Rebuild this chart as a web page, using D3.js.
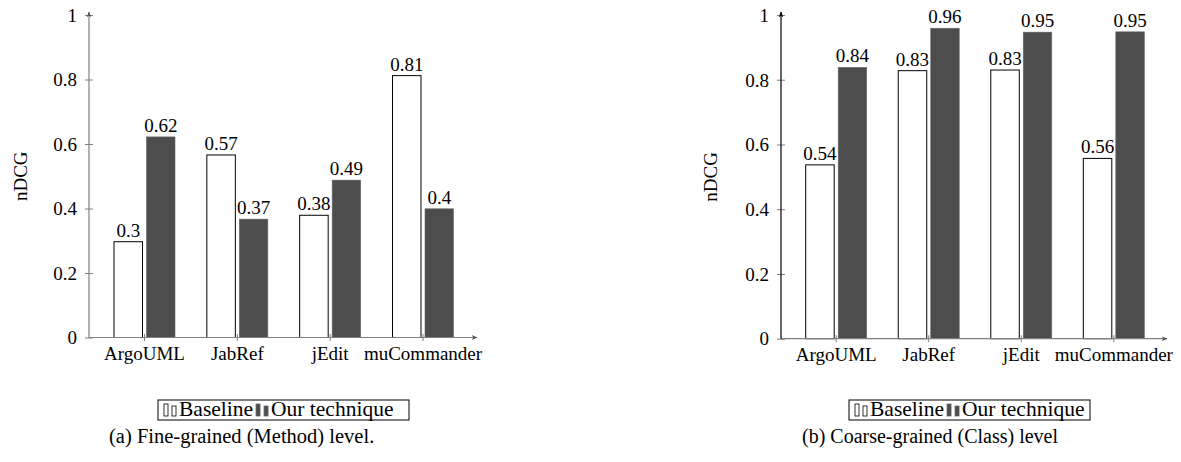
<!DOCTYPE html>
<html><head><meta charset="utf-8">
<script src="https://cdn.jsdelivr.net/npm/d3@7"></script>
<style>
body{margin:0;background:#fff}
text{font-family:"Liberation Serif","Times New Roman",serif;fill:#000}
</style>
</head><body><svg id="c" width="1181" height="462"></svg>
<script>
const categories = ["ArgoUML","JabRef","jEdit","muCommander"];
const yTicks = [0,0.2,0.4,0.6,0.8,1];
const fineBaseline = [0.297,0.566,0.379,0.812];
const fineOurs = [0.622,0.367,0.488,0.399];
const coarseBaseline = [0.537,0.828,0.830,0.557];
const coarseOurs = [0.838,0.959,0.947,0.948];
const seriesNames = ["Baseline","Our technique"];
const yLabel = "nDCG";
const captions = ["(a) Fine-grained (Method) level.","(b) Coarse-grained (Class) level"];

const svg = d3.select("#c");
const DARK = "#4d4d4d";
const fmt = v => d3.format(".2~f")(v);

const defs = svg.append("defs");
function marker(id,color){
  defs.append("marker").attr("id",id).attr("viewBox","0 0 10 10").attr("refX",9).attr("refY",5)
    .attr("markerWidth",5).attr("markerHeight",5).attr("orient","auto-start-reverse")
    .append("path").attr("d","M0,1 L10,5 L0,9 L3,5 Z").attr("fill",color);
}
marker("arrG","#555");
marker("arrK","#000");

const panels = [
  {base:fineBaseline, ours:fineOurs, ax:89, axEnd:477, yBot:337.5, yTop:15, t0:144, t1:422.5, yCol:"#808080", yMarker:"arrG", lblX:27, legX:158, legW:251, capX:109, capSize:20.5},
  {base:coarseBaseline, ours:coarseOurs, ax:781, axEnd:1167, yBot:338.7, yTop:15, t0:835.7, t1:1113.3, yCol:"#000", yMarker:"arrK", lblX:717, legX:849, legW:241, capX:802, capSize:20}
];

panels.forEach((p,pi)=>{
  const g = svg.append("g");
  const y = d3.scaleLinear().domain([0,1]).range([p.yBot,p.yTop]);
  const x = d3.scalePoint().domain(categories).range([p.t0,p.t1]);
  const bw = 28.5;

  const rows = categories.map((c,i)=>({c, b:p.base[i], o:p.ours[i]}));
  g.selectAll(".bb").data(rows).join("rect")
    .attr("x",d=>x(d.c)-30).attr("width",bw)
    .attr("y",d=>y(d.b)).attr("height",d=>y(0)-y(d.b))
    .attr("fill","#fff").attr("stroke","#000").attr("stroke-width",1);
  g.selectAll(".bo").data(rows).join("rect")
    .attr("x",d=>x(d.c)+2.5).attr("width",bw)
    .attr("y",d=>y(d.o)).attr("height",d=>y(0)-y(d.o))
    .attr("fill",DARK).attr("stroke","#666").attr("stroke-width",0.6);

  g.selectAll(".lb").data(rows).join("text")
    .attr("x",d=>x(d.c)-30+bw/2).attr("y",d=>y(d.b)-5)
    .attr("text-anchor","middle").attr("font-size",19).text(d=>fmt(d.b));
  g.selectAll(".lo").data(rows).join("text")
    .attr("x",d=>x(d.c)+2.5+bw/2).attr("y",d=>y(d.o)-5)
    .attr("text-anchor","middle").attr("font-size",19).text(d=>fmt(d.o));

  const yAx = d3.axisLeft(y).tickValues(yTicks).tickFormat(d=>d3.format("~g")(d)).tickSize(4).tickPadding(8);
  const ya = g.append("g").attr("transform",`translate(${p.ax},0)`).call(yAx);
  ya.select(".domain").remove();
  ya.selectAll(".tick line").attr("x1",-4).attr("x2",4).attr("stroke","#808080");
  ya.selectAll(".tick text").attr("font-size",19).attr("font-family","Liberation Serif").attr("fill","#000").attr("dy","0.33em");

  const xAx = d3.axisBottom(x).tickSize(0).tickPadding(9);
  const xa = g.append("g").attr("transform",`translate(0,${p.yBot})`).call(xAx);
  xa.select(".domain").remove();
  xa.selectAll(".tick line").attr("y1",-3.5).attr("y2",3.5).attr("stroke","#808080");
  xa.selectAll(".tick text").attr("font-size",19).attr("font-family","Liberation Serif").attr("fill","#000").attr("dy","0.71em");

  g.append("line").attr("x1",p.ax).attr("x2",p.axEnd).attr("y1",p.yBot).attr("y2",p.yBot)
    .attr("stroke","#808080").attr("stroke-width",1.2).attr("marker-end","url(#arrG)");
  g.append("line").attr("x1",p.ax).attr("x2",p.ax).attr("y1",p.yBot).attr("y2",p.yTop-3)
    .attr("stroke",p.yCol).attr("stroke-width",1.2).attr("marker-end",`url(#${p.yMarker})`);

  g.append("text").attr("transform",`translate(${p.lblX},${(p.yBot+p.yTop)/2}) rotate(-90)`)
    .attr("text-anchor","middle").attr("font-size",19).text(yLabel);

  const lg = g.append("g");
  const by = 400, bh = 20;
  lg.append("rect").attr("x",p.legX).attr("y",by).attr("width",p.legW).attr("height",bh)
    .attr("fill","#fff").attr("stroke","#000").attr("stroke-width",1);
  let cx = p.legX + 6;
  seriesNames.forEach((s,si)=>{
    const fill = si===0?"#fff":DARK, stroke = si===0?"#000":"#666";
    lg.append("rect").attr("x",cx).attr("y",by+4).attr("width",4).attr("height",12).attr("fill",fill).attr("stroke",stroke).attr("stroke-width",0.8);
    lg.append("rect").attr("x",cx+8).attr("y",by+6).attr("width",4).attr("height",10).attr("fill",fill).attr("stroke",stroke).attr("stroke-width",0.8);
    const t = lg.append("text").attr("x",cx+15).attr("y",by+15.5).attr("font-size",21.5).text(s);
    cx = cx + 15 + t.node().getComputedTextLength() + 3;
  });

  g.append("text").attr("x",p.capX).attr("y",443).attr("font-size",p.capSize).text(captions[pi]);
});
</script></body></html>
